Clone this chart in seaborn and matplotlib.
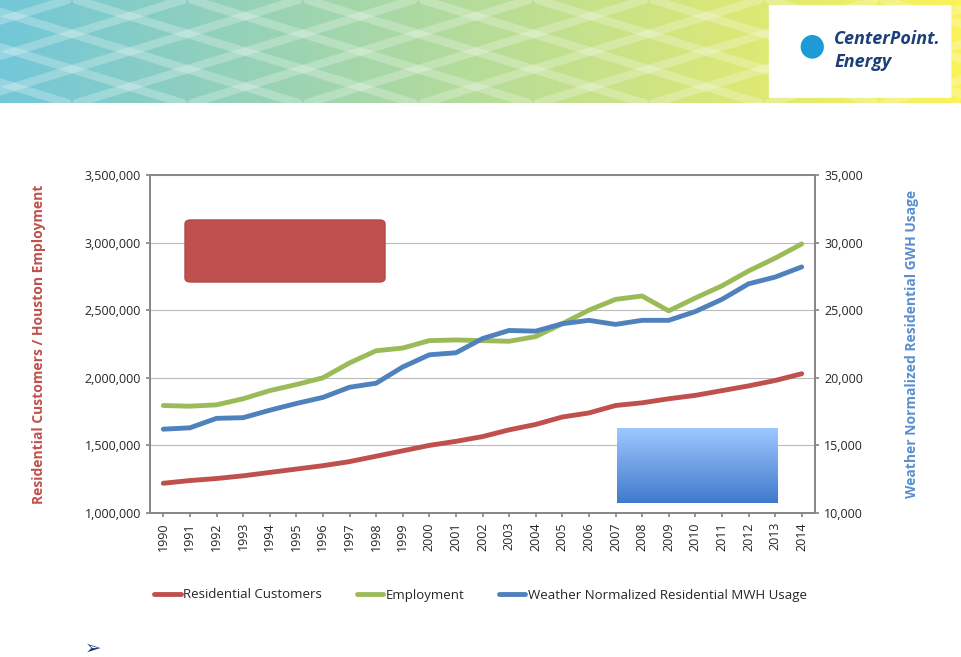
import numpy as np
import pandas as pd
import matplotlib
matplotlib.use("Agg")
import matplotlib.pyplot as plt
from matplotlib.patches import FancyBboxPatch
import seaborn as sns

years = list(range(1990, 2015))
customers = [1.22e6,1.24e6,1.255e6,1.275e6,1.30e6,1.325e6,1.35e6,1.38e6,1.42e6,1.46e6,1.50e6,1.53e6,1.565e6,1.615e6,1.655e6,1.71e6,1.74e6,1.795e6,1.815e6,1.845e6,1.87e6,1.905e6,1.94e6,1.98e6,2.03e6]
employment = [1.795e6,1.79e6,1.80e6,1.845e6,1.905e6,1.95e6,2.0e6,2.11e6,2.2e6,2.22e6,2.275e6,2.28e6,2.275e6,2.27e6,2.305e6,2.4e6,2.5e6,2.58e6,2.605e6,2.495e6,2.59e6,2.68e6,2.79e6,2.885e6,2.99e6]
usage = [16200,16300,17000,17050,17600,18100,18550,19300,19600,20800,21700,21850,22900,23500,23450,24000,24250,23950,24250,24250,24900,25800,26950,27450,28200]

df = pd.DataFrame({"year": years, "cust": customers, "emp": employment, "use": usage})
sns.set_theme(style="white")
plt.rcParams['font.family'] = ['Open Sans', 'DejaVu Sans']

RED, GREEN, BLUE = "#C0504D", "#9BBB59", "#4F81BD"
fig = plt.figure(figsize=(9.61, 6.57), dpi=100)

# banner
bax = fig.add_axes([0, 1 - 103/657, 1, 103/657])
g = np.linspace(0, 1, 300)
c1 = np.array([0.45, 0.78, 0.85]); c2 = np.array([0.98, 0.95, 0.35])
img = (c1[None, :] * (1 - g[:, None]) + c2[None, :] * g[:, None])[None, :, :]
bax.imshow(np.repeat(img, 10, axis=0), aspect="auto", extent=[0, 1, 0, 1])
for k in np.arange(-1, 2, 0.12):
    bax.plot([k, k + 0.35], [0, 1], color="white", alpha=0.25, lw=6)
    bax.plot([k + 0.35, k], [0, 1], color="white", alpha=0.25, lw=6)
bax.add_patch(FancyBboxPatch((0.80, 0.05), 0.19, 0.9, boxstyle="round,pad=0", fc="white", ec="none"))
bax.set_xlim(0, 1); bax.set_ylim(0, 1); bax.axis("off")
fig.text(0.845, 0.93, "●", color="#1E9AD6", fontsize=22, ha="center", va="center")
fig.text(0.868, 0.94, "CenterPoint.", color="#1B3F7A", fontsize=13, fontweight="bold", style="italic", va="center")
fig.text(0.868, 0.905, "Energy", color="#1B3F7A", fontsize=13, fontweight="bold", style="italic", va="center")

ax = fig.add_axes([150/961, 1 - 513/657, 665/961, 338/657])
sns.lineplot(data=df, x="year", y="cust", ax=ax, color=RED, lw=3.5, label="Residential Customers", legend=False)
sns.lineplot(data=df, x="year", y="emp", ax=ax, color=GREEN, lw=3.5, label="Employment", legend=False)
ax2 = ax.twinx()
sns.lineplot(data=df, x="year", y="use", ax=ax2, color=BLUE, lw=3.5, label="Weather Normalized Residential MWH Usage", legend=False)

ax.set_xlim(1989.5, 2014.5)
ax.set_ylim(1e6, 3.5e6); ax2.set_ylim(10000, 35000)
ax.set_yticks(np.arange(1e6, 3.51e6, 5e5))
ax.set_yticklabels([f"{int(v):,}" for v in np.arange(1e6, 3.51e6, 5e5)], fontsize=9)
ax2.set_yticks(np.arange(10000, 35001, 5000))
ax2.set_yticklabels([f"{v:,}" for v in range(10000, 35001, 5000)], fontsize=9)
ax.set_xticks(years); ax.set_xticklabels([str(y) for y in years], rotation=90, fontsize=9)
ax.grid(axis="y", color="#BBBBBB", lw=0.8); ax.set_axisbelow(True)
ax.set_xlabel(""); ax2.set_xlabel("")
ax.set_ylabel("Residential Customers / Houston Employment", color=RED, fontsize=10, fontweight="bold", labelpad=28)
ax2.set_ylabel("Weather Normalized Residential GWH Usage", color="#5B8FD0", fontsize=10, fontweight="bold", labelpad=30)
for a in (ax, ax2):
    for s in a.spines.values():
        s.set_color("#888888")
ax.tick_params(axis="both", length=3, color="#888888", left=True, bottom=True)
ax2.tick_params(axis="y", length=3, color="#888888", right=True)

ax.add_patch(FancyBboxPatch((185/961, 1 - 282/657), 200/961, 62/657, boxstyle="round,pad=0,rounding_size=0.006",
                            transform=fig.transFigure, fc=RED, ec="#B04A47", zorder=5))
gax = fig.add_axes([617/961, 1 - 503/657, 161/961, 75/657])
gg = np.linspace(0, 1, 100)[:, None]
cg = np.array([0.62, 0.78, 1.0])[None, :] * (1 - gg) + np.array([0.25, 0.48, 0.80])[None, :] * gg
gax.imshow(cg[:, None, :], aspect="auto", extent=[0, 1, 0, 1])
gax.axis("off")

h1, l1 = ax.get_legend_handles_labels(); h2, l2 = ax2.get_legend_handles_labels()
fig.legend(h1 + h2, l1 + l2, loc="center", bbox_to_anchor=(0.5, 1 - 595/657), ncol=3, frameon=False,
           fontsize=9.5, handlelength=2.0, handletextpad=0.2, columnspacing=2.6)
fig.text(93/961, 1 - 648/657, "➢", color="#1B3F7A", fontsize=14, ha="center", va="center", family="DejaVu Sans")
fig.savefig("out.png", dpi=100)
